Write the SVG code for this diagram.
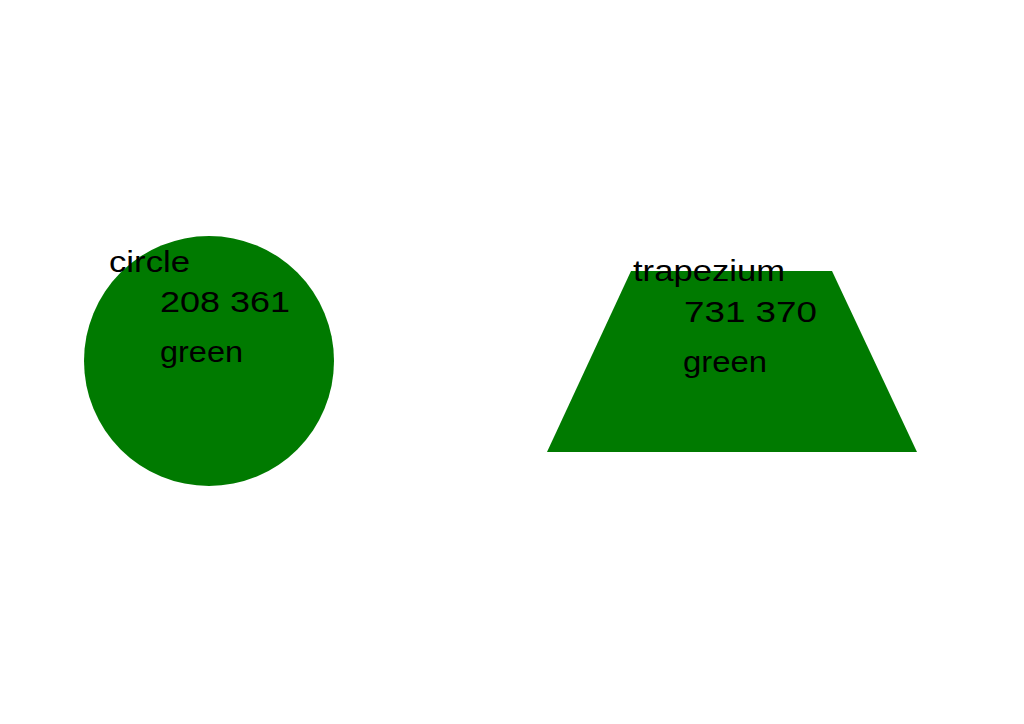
<svg xmlns="http://www.w3.org/2000/svg" width="1024" height="724" viewBox="0 0 1024 724">
<style>
.shape{fill:#007a00}
.lbl{font-family:"Liberation Sans","DejaVu Sans",sans-serif;font-size:29px;fill:#000}
</style>
<rect width="1024" height="724" fill="#fff"/>
<g id="circle">
<circle class="shape" cx="209" cy="361" r="125"/>
<text class="lbl" x="109" y="272" textLength="81" lengthAdjust="spacingAndGlyphs">circle</text>
<text class="lbl" x="160" y="312" textLength="130" lengthAdjust="spacingAndGlyphs">208 361</text>
<text class="lbl" x="160" y="362" textLength="83" lengthAdjust="spacingAndGlyphs">green</text>
</g>
<g id="trapezium">
<polygon class="shape" points="631,271 832,271 917,452 547,452"/>
<text class="lbl" x="633" y="281" textLength="152" lengthAdjust="spacingAndGlyphs">trapezium</text>
<text class="lbl" x="684" y="322" textLength="133" lengthAdjust="spacingAndGlyphs">731 370</text>
<text class="lbl" x="683" y="372" textLength="84" lengthAdjust="spacingAndGlyphs">green</text>
</g>
</svg>
